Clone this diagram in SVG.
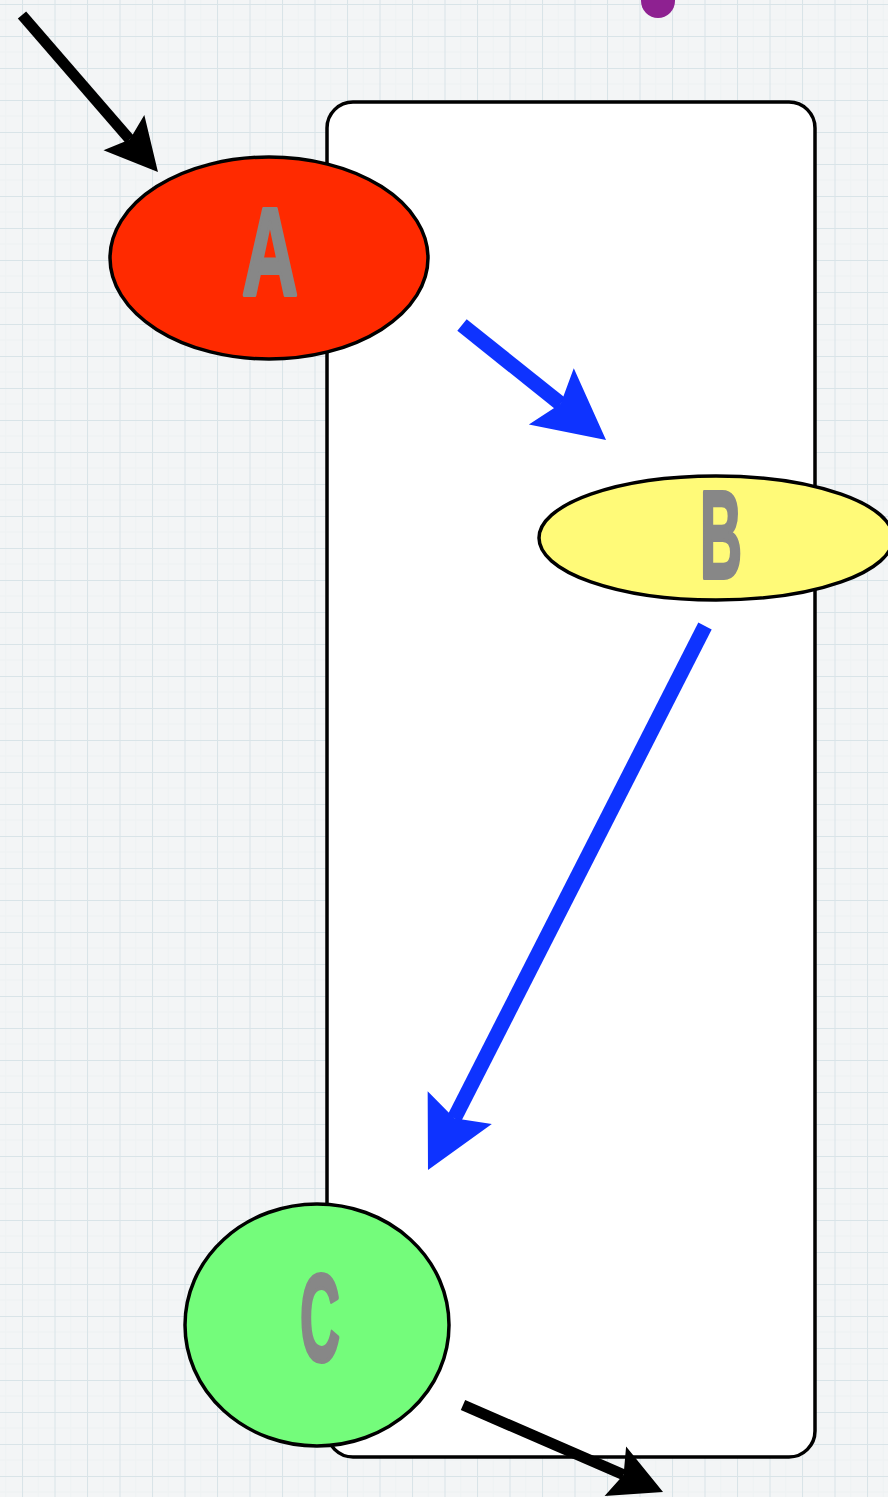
<svg xmlns="http://www.w3.org/2000/svg" width="888" height="1497" viewBox="0 0 888 1497">
  <defs>
    <pattern id="grid" x="22" y="4" width="32.5" height="32" patternUnits="userSpaceOnUse">
      <rect width="32.5" height="32" fill="#f3f5f6"/>
      <path d="M16.25 0V32M0 16H32.5" stroke="#eef2f3" stroke-width="1" fill="none"/>
      <path d="M0 0V32M0 0H32.5" stroke="#d9e4e8" stroke-width="2" fill="none"/>
    </pattern>
    <marker id="headBlue" markerUnits="userSpaceOnUse" markerWidth="80" markerHeight="80" viewBox="-2 -40 76 80" refX="12" refY="0" orient="auto">
      <path d="M0,-36 L70,0 L0,36 L12,0 Z" fill="#0e33ff"/>
    </marker>
    <marker id="headBlack" markerUnits="userSpaceOnUse" markerWidth="60" markerHeight="60" viewBox="-2 -30 58 60" refX="9" refY="0" orient="auto">
      <path d="M0,-27 L52,0 L0,27 L9,0 Z" fill="#000"/>
    </marker>
    <style>
      .node { stroke: #000; stroke-width: 3.5; }
      .label { font-family: "Liberation Sans", "DejaVu Sans", sans-serif; font-weight: bold; font-size: 124px; fill: #878787; stroke: #878787; stroke-width: 4; stroke-linejoin: round; text-anchor: middle; }
      .blue { stroke: #0e33ff; stroke-width: 15; fill: none; }
      .black { stroke: #000; stroke-width: 11; fill: none; }
    </style>
  </defs>
  <rect width="888" height="1497" fill="url(#grid)"/>
  <g id="blob">
    <ellipse cx="658" cy="1" rx="17" ry="17" fill="#8e2191"/>
  </g>
  <g id="container">
    <rect x="327" y="102" width="488" height="1355" rx="26" ry="26" fill="#fff" stroke="#000" stroke-width="3.5"/>
  </g>
  <g id="nodeA">
    <ellipse class="node" cx="269" cy="258" rx="159" ry="101" fill="#ff2a00"/>
    <text class="label" x="270" y="295" textLength="56" lengthAdjust="spacingAndGlyphs">A</text>
  </g>
  <g id="nodeB">
    <ellipse class="node" cx="716" cy="538" rx="177" ry="62" fill="#fffa78"/>
    <text class="label" x="721" y="578" textLength="42" lengthAdjust="spacingAndGlyphs">B</text>
  </g>
  <g id="nodeC">
    <ellipse class="node" cx="317" cy="1325" rx="132" ry="121" fill="#74fc7b"/>
    <text class="label" x="320" y="1361" textLength="40" lengthAdjust="spacingAndGlyphs">C</text>
  </g>
  <g id="connectors">
    <line class="black" x1="22" y1="15" x2="129.8" y2="139.5" marker-end="url(#headBlack)"/>
    <line class="blue" x1="462" y1="325" x2="560.7" y2="403.8" marker-end="url(#headBlue)"/>
    <line class="blue" x1="705" y1="626" x2="454.3" y2="1118.3" marker-end="url(#headBlue)"/>
    <line class="black" x1="463" y1="1405" x2="623.6" y2="1474.8" marker-end="url(#headBlack)"/>
  </g>
</svg>
